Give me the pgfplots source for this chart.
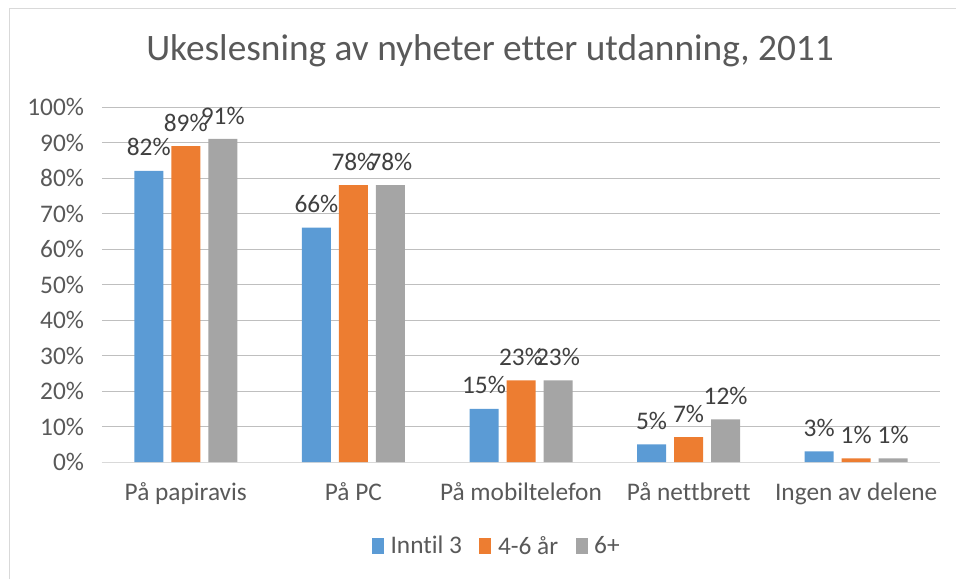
\documentclass[border=0pt]{standalone}
\usepackage{pgfplots}
\pgfplotsset{compat=1.18}
\usepackage{fontspec}
\setmainfont[Ligatures=NoCommon]{Carlito}
\definecolor{cblue}{HTML}{5B9BD5}
\definecolor{corange}{HTML}{ED7D31}
\definecolor{cgray}{HTML}{A5A5A5}
\definecolor{txt}{HTML}{595959}
\definecolor{lbl}{HTML}{404040}
\definecolor{grid}{HTML}{D9D9D9}
\begin{document}
\begin{tikzpicture}
\useasboundingbox (0,0) rectangle (717pt,434.25pt);
\draw[grid,line width=0.75pt] (6.75pt,0) -- (6.75pt,427.5pt) -- (720pt,427.5pt);
\node[text=txt,font=\fontsize{28}{32}\selectfont] at (367.5pt,396pt) {Ukeslesning av nyheter etter utdanning, 2011};
\begin{axis}[
  at={(76.5pt,87.75pt)}, anchor=south west,
  scale only axis, width=628.5pt, height=266.25pt,
  /pgf/number format/assume math mode=true,
  ybar, bar width=21.75pt,
  xmin=-0.5, xmax=4.5, ymin=0, ymax=100,
  xtick=data,
  xticklabels={På papiravis,På PC,På mobiltelefon,På nettbrett,Ingen av delene},
  ytick={0,10,...,100},
  yticklabels={0\%,10\%,20\%,30\%,40\%,50\%,60\%,70\%,80\%,90\%,100\%},
  ymajorgrids, xmajorgrids=false, grid style={grid,line width=0.75pt},
  axis line style={draw=none},
  major tick length=0pt, tick style={draw=none},
  tick label style={text=txt,font=\fontsize{19}{22}\selectfont},
  yticklabel style={xshift=-10pt},
  xticklabel style={yshift=-12pt},
  nodes near coords={\pgfmathprintnumber{\pgfplotspointmeta}\%},
  every node near coord/.append style={text=lbl,font=\fontsize{19}{22}\selectfont,yshift=7.5pt},
  legend style={at={(0.4715,-0.237)},anchor=center,draw=none,legend columns=3,
    font=\fontsize{19}{22}\selectfont,text=txt,
    /tikz/every odd column/.append style={column sep=3pt},
    /tikz/every even column/.append style={column sep=11pt}},
  legend image code/.code={\fill[#1] (0pt,-6pt) rectangle (9pt,6pt);},
  clip=false,
]
\draw[grid,line width=0.75pt] (axis cs:-0.5,0) -- (axis cs:4.5,0);
\addplot[fill=cblue,draw=none,bar shift=-27.75pt] coordinates {(0,82) (1,66) (2,15) (3,5) (4,3)};
\addplot[fill=corange,draw=none,bar shift=0pt] coordinates {(0,89) (1,78) (2,23) (3,7) (4,1)};
\addplot[fill=cgray,draw=none,bar shift=27.75pt] coordinates {(0,91) (1,78) (2,23) (3,12) (4,1)};
\legend{Inntil 3,4-6 år,6+}
\end{axis}
\end{tikzpicture}
\end{document}
